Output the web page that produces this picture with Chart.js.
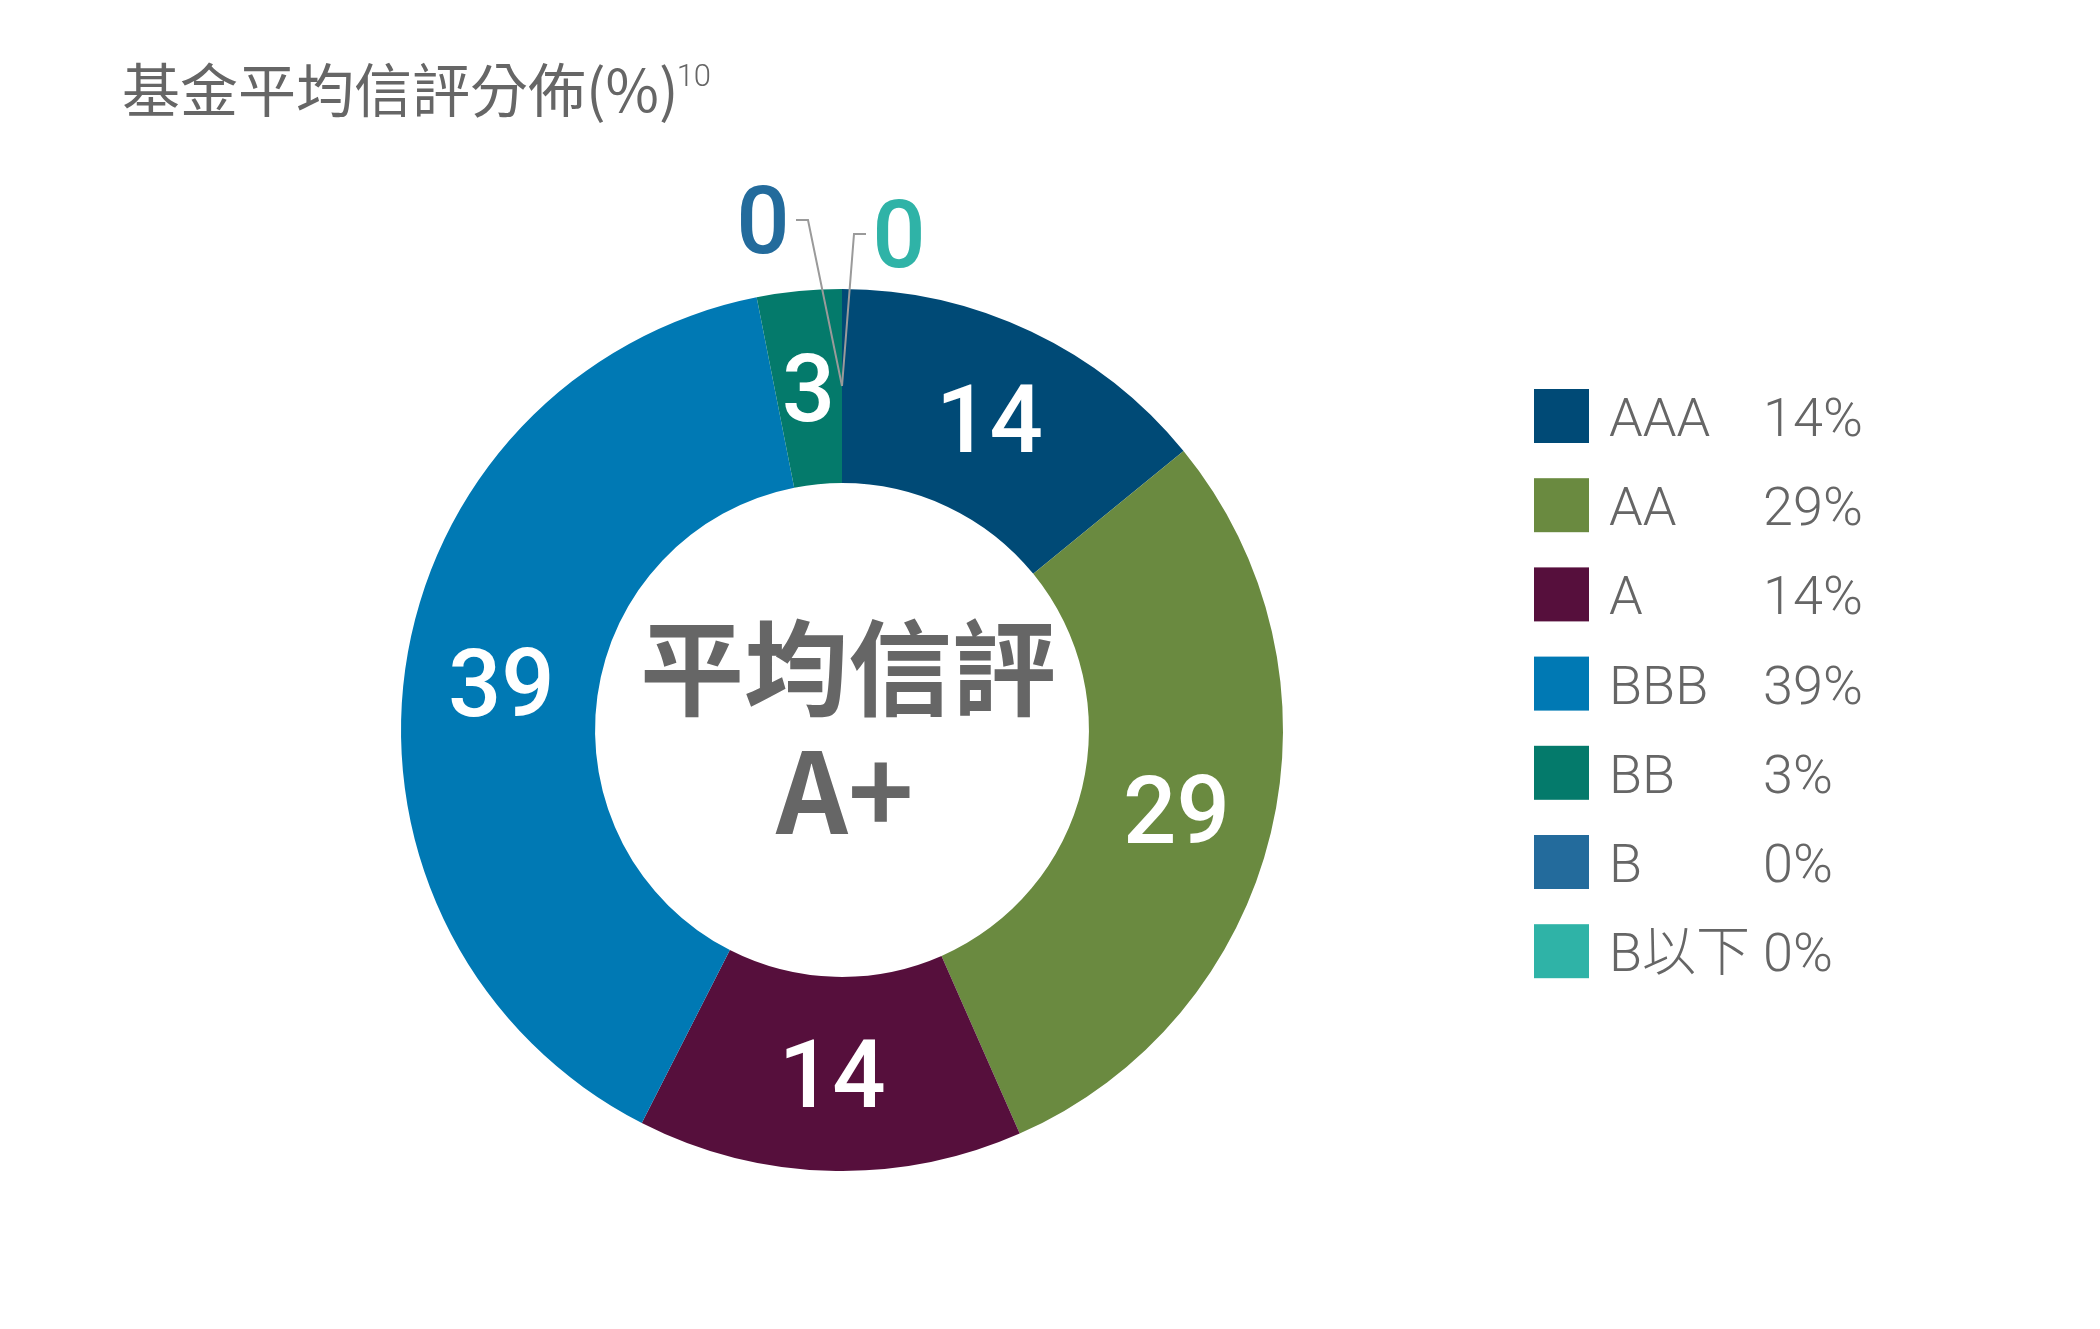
<!DOCTYPE html>
<html>
<head>
<meta charset="utf-8">
<script src="https://cdn.jsdelivr.net/npm/chart.js@4.4.1/dist/chart.umd.min.js"></script>
<style>
  html, body { margin: 0; padding: 0; background: #fff; overflow: hidden; }
  #wrap { position: absolute; left: 0; top: 0; width: 2100px; height: 1329px; }
</style>
</head>
<body>
<div id="wrap"><canvas id="ratingChart" width="2100" height="1329"></canvas></div>
<script>
// chart data
const labels = ['AAA', 'AA', 'A', 'BBB', 'BB', 'B', 'B以下'];
const values = [14.1, 29.3, 14.1, 39.4, 3.1, 0, 0];
const colors = ['#004a76', '#6a8a40', '#560f3c', '#0079b4', '#047a6b', '#236b9c', '#2fb3a7'];
const titleText = '基金平均信評分佈(%)';
const titleNote = '10';
const centerLines = ['平均信評', 'A+'];

const GRAY = '#666666';
const NUM_FONT = '500 94px Roboto, "Noto Sans CJK TC", sans-serif';

// draws title, slice values, centre text and the legend
const extras = {
  id: 'extras',
  afterDatasetsDraw(chart) {
    const ctx = chart.ctx;
    const arcs = chart.getDatasetMeta(0).data;
    ctx.save();

    // values on slices
    ctx.font = NUM_FONT;
    ctx.textAlign = 'center';
    ctx.textBaseline = 'alphabetic';
    const zeroOffsets = [[-79, -166], [57, -152]];
    let z = 0;
    arcs.forEach((arc, i) => {
      const v = Math.round(values[i]);
      const p = arc.tooltipPosition();
      if (v > 0) {
        ctx.fillStyle = '#ffffff';
        ctx.fillText(String(v), p.x, p.y + 33);
      } else {
        const off = zeroOffsets[z % zeroOffsets.length];
        const side = off[0] < 0 ? -1 : 1;
        const lx = p.x + off[0], ly = p.y + off[1];
        ctx.strokeStyle = '#9a9a9a';
        ctx.lineWidth = 2;
        ctx.beginPath();
        ctx.moveTo(p.x, p.y);
        ctx.lineTo(lx - side * 45, ly);
        ctx.lineTo(lx - side * 33, ly);
        ctx.stroke();
        ctx.fillStyle = colors[i];
        ctx.fillText(String(v), lx, ly + 33);
        z++;
      }
    });

    // centre text
    const cx = (chart.chartArea.left + chart.chartArea.right) / 2;
    const cy = (chart.chartArea.top + chart.chartArea.bottom) / 2;
    ctx.fillStyle = GRAY;
    ctx.font = '700 104px "Noto Sans CJK TC", sans-serif';
    ctx.textBaseline = 'middle';
    ctx.fillText(centerLines[0], cx + 6, cy - 62);
    ctx.font = '700 112px "Noto Sans CJK TC", sans-serif';
    ctx.textBaseline = 'alphabetic';
    ctx.fillText(centerLines[1], cx + 3, cy + 104);

    // title
    ctx.textAlign = 'left';
    ctx.font = '400 58px "Noto Sans CJK TC", sans-serif';
    ctx.textBaseline = 'middle';
    ctx.fillText(titleText, 122, 90);
    const tw = ctx.measureText(titleText).width;
    ctx.font = '300 31px Roboto, sans-serif';
    ctx.textBaseline = 'alphabetic';
    ctx.fillText(titleNote, 122 + tw - 2, 86);

    // legend
    labels.forEach((lab, i) => {
      const y = 416 + i * 89.2;
      ctx.fillStyle = colors[i];
      ctx.fillRect(1534, y - 27, 55, 54);
      ctx.fillStyle = GRAY;
      ctx.font = '300 54px Roboto, "Noto Sans CJK TC", sans-serif';
      ctx.fillText(lab, 1609, y + 20);
      ctx.fillText(Math.round(values[i]) + '%', 1763, y + 20);
    });
    ctx.restore();
  }
};

const chart = new Chart(document.getElementById('ratingChart'), {
  type: 'doughnut',
  data: {
    labels: labels,
    datasets: [{
      data: values,
      backgroundColor: colors,
      borderWidth: 0,
    }]
  },
  options: {
    responsive: false,
    animation: false,
    devicePixelRatio: 1,
    cutout: '56%',
    layout: { padding: { left: 401, right: 817, top: 289, bottom: 158 } },
    plugins: {
      legend: { display: false },
      tooltip: { enabled: false }
    }
  },
  plugins: [extras]
});
</script>
</body>
</html>
